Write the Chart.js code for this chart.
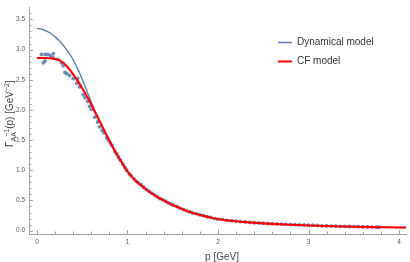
<!DOCTYPE html>
<html>
<head>
<meta charset="utf-8">
<script src="https://cdn.jsdelivr.net/npm/chart.js@4"></script>
<style>
html, body { margin: 0; padding: 0; background: #fff; }
#wrap { width: 410px; height: 262px; position: relative; }
</style>
</head>
<body>
<div id="wrap"><canvas id="chart"></canvas></div>
<script>
// momentum grid for the two model curves
const curveP = [0, 0.05, 0.1, 0.15, 0.2, 0.25, 0.3, 0.35, 0.4, 0.45, 0.5, 0.55, 0.6, 0.65, 0.7, 0.75, 0.8, 0.85, 0.9, 0.95,
    1.0, 1.05, 1.1, 1.15, 1.2, 1.25, 1.3, 1.35, 1.4, 1.45, 1.5, 1.55, 1.6, 1.65, 1.7, 1.75, 1.8, 1.85, 1.9, 2.0,
    2.1, 2.2, 2.3, 2.4, 2.5, 2.6, 2.8, 3.0, 3.2, 3.4, 3.6, 3.8, 4.0, 4.1];
const cfModel = [2.86, 2.86, 2.86, 2.855, 2.845, 2.82, 2.77, 2.69, 2.59, 2.48, 2.36, 2.23, 2.09, 1.94, 1.79, 1.64, 1.49, 1.35, 1.22, 1.10,
    0.98, 0.89, 0.81, 0.75, 0.69, 0.635, 0.585, 0.54, 0.50, 0.46, 0.425, 0.39, 0.36, 0.33, 0.305, 0.28, 0.26, 0.24, 0.222, 0.192,
    0.17, 0.155, 0.141, 0.13, 0.12, 0.111, 0.096, 0.085, 0.076, 0.068, 0.062, 0.057, 0.052, 0.05];
const dynModel = [3.35, 3.34, 3.31, 3.27, 3.21, 3.14, 3.05, 2.95, 2.83, 2.68, 2.51, 2.32, 2.13, 1.95, 1.78, 1.63, 1.49, 1.35, 1.22, 1.10,
    0.98, 0.89, 0.81, 0.75, 0.69, 0.635, 0.585, 0.54, 0.50, 0.46, 0.425, 0.39, 0.36, 0.33, 0.305, 0.28, 0.26, 0.24, 0.222, 0.192,
    0.17, 0.155, 0.141, 0.13, 0.12, 0.111, 0.096, 0.085, 0.076, 0.068, 0.062, 0.057, 0.052, 0.05];

// lattice data points
const dotsP = [0.05, 0.07, 0.09, 0.09, 0.12, 0.15, 0.18, 0.18, 0.23, 0.27, 0.29, 0.31, 0.33, 0.36, 0.40, 0.44, 0.45, 0.47, 0.51, 0.53,
    0.56, 0.58, 0.60, 0.64, 0.67, 0.69, 0.72, 0.74, 0.77, 0.79, 0.81, 0.83, 0.86, 0.88, 0.90, 0.92, 0.95, 0.97, 0.99, 1.02,
    1.04, 1.07, 1.10, 1.12, 1.15, 1.18, 1.21, 1.24, 1.27, 1.30, 1.33, 1.36, 1.39, 1.42, 1.45, 1.48, 1.51, 1.55, 1.58, 1.62,
    1.65, 1.69, 1.72, 1.76, 1.80, 1.84, 1.88, 1.92, 1.96, 2.00, 2.05, 2.10, 2.15, 2.20, 2.25, 2.30, 2.35, 2.40, 2.45, 2.50,
    2.55, 2.60, 2.65, 2.70, 2.75, 2.80, 2.85, 2.90, 2.95, 3.00, 3.05, 3.10, 3.15, 3.20, 3.25, 3.30, 3.35, 3.40, 3.45, 3.50,
    3.55, 3.60, 3.65, 3.70, 3.75, 3.78];
const dotsV = [2.92, 2.78, 2.92, 2.81, 2.92, 2.90, 2.93, 2.86, 2.84, 2.78, 2.73, 2.62, 2.60, 2.57, 2.52, 2.44, 2.52, 2.38, 2.25, 2.20,
    2.14, 2.06, 2.01, 1.88, 1.80, 1.72, 1.66, 1.62, 1.54, 1.50, 1.45, 1.41, 1.31, 1.27, 1.22, 1.17, 1.10, 1.05, 1.00, 0.94,
    0.91, 0.86, 0.82, 0.79, 0.76, 0.72, 0.68, 0.65, 0.62, 0.59, 0.56, 0.53, 0.51, 0.49, 0.46, 0.44, 0.42, 0.40, 0.37, 0.35,
    0.33, 0.31, 0.29, 0.28, 0.26, 0.25, 0.23, 0.22, 0.20, 0.19, 0.185, 0.17, 0.165, 0.155, 0.15, 0.145, 0.135, 0.13, 0.128, 0.122,
    0.118, 0.115, 0.11, 0.108, 0.104, 0.10, 0.098, 0.096, 0.094, 0.092, 0.09, 0.085, 0.08, 0.078, 0.076, 0.074, 0.07, 0.07, 0.068, 0.066,
    0.064, 0.062, 0.06, 0.058, 0.057, 0.056];

const xTicks = [0, 1, 2, 3, 4];
const yTicks = [0, 0.5, 1.0, 1.5, 2.0, 2.5, 3.0, 3.5];

const legendItems = [
    { label: 'Dynamical model', color: '#5E81B5' },
    { label: 'CF model', color: '#FF0000' }
];

// minor ticks (0.2 on x, 0.1 on y)
const minorX = [];
for (let i = 1; i <= 20; i++) if (i % 5) minorX.push(i / 5);
const minorY = [];
for (let i = 1; i <= 36; i++) if (i % 5) minorY.push(i / 10);

const toXY = (xs, ys) => xs.map((x, i) => ({ x: x, y: ys[i] }));

const decoPlugin = {
    id: 'deco',
    afterDraw(chart) {
        const ctx = chart.ctx;
        const xs = chart.scales.x, ys = chart.scales.y;
        const area = chart.chartArea;
        ctx.save();
        // inward ticks
        ctx.strokeStyle = '#a0a0a0';
        ctx.lineWidth = 1;
        ctx.beginPath();
        xTicks.forEach(v => {
            const px = Math.round(xs.getPixelForValue(v)) + 0.5;
            ctx.moveTo(px, area.bottom); ctx.lineTo(px, area.bottom - 4);
        });
        minorX.forEach(v => {
            const px = Math.round(xs.getPixelForValue(v)) + 0.5;
            ctx.moveTo(px, area.bottom); ctx.lineTo(px, area.bottom - 2.5);
        });
        yTicks.forEach(v => {
            const py = Math.round(ys.getPixelForValue(v)) + 0.5;
            ctx.moveTo(area.left, py); ctx.lineTo(area.left + 4, py);
        });
        minorY.forEach(v => {
            const py = Math.round(ys.getPixelForValue(v)) + 0.5;
            ctx.moveTo(area.left, py); ctx.lineTo(area.left + 2.5, py);
        });
        ctx.stroke();

        // x title
        ctx.fillStyle = '#444';
        ctx.font = '10px "Liberation Sans", Arial, sans-serif';
        ctx.textAlign = 'center';
        ctx.textBaseline = 'alphabetic';
        ctx.fillText('p [GeV]', 222, 260);

        // y title with sub/superscripts, rotated
        const big = '10px "Liberation Sans", Arial, sans-serif';
        const small = '7px "Liberation Sans", Arial, sans-serif';
        const parts = [
            { t: 'Γ', f: big, dy: 0 },
            { t: 'AA', f: small, dy: 2.5 },
            { t: '−1', f: small, dy: -4.5 },
            { t: '(p) [GeV', f: big, dy: 0 },
            { t: '−2', f: small, dy: -4.5 },
            { t: ']', f: big, dy: 0 }
        ];
        let total = 0;
        parts.forEach(p => { ctx.font = p.f; p.w = ctx.measureText(p.t).width; total += p.w; });
        ctx.translate(13, 116);
        ctx.rotate(-Math.PI / 2);
        ctx.textAlign = 'left';
        // the -1 superscript starts halfway over the AA subscript
        let cx = -total / 2 + parts[1].w * 0.5;
        parts.forEach((p, i) => {
            ctx.font = p.f;
            if (i === 2) cx -= parts[1].w * 0.5;
            ctx.fillText(p.t, cx, p.dy);
            cx += p.w;
        });
        ctx.restore();

        // legend
        ctx.save();
        ctx.font = '10px "Liberation Sans", Arial, sans-serif';
        ctx.textBaseline = 'middle';
        ctx.textAlign = 'left';
        legendItems.forEach((it, i) => {
            const y = 42 + i * 19;
            ctx.strokeStyle = it.color;
            ctx.lineWidth = i === 1 ? 2 : 1.5;
            ctx.beginPath();
            ctx.moveTo(278, y + 0.5); ctx.lineTo(292, y + 0.5);
            ctx.stroke();
            ctx.fillStyle = '#333';
            ctx.fillText(it.label, 297, y);
        });
        ctx.restore();
    }
};

new Chart(document.getElementById('chart'), {
    type: 'scatter',
    data: {
        datasets: [
            {
                label: 'CF model',
                data: toXY(curveP, cfModel),
                showLine: true,
                borderColor: '#FF0000',
                borderWidth: 2.1,
                pointRadius: 0,
                cubicInterpolationMode: 'monotone',
                order: 0
            },
            {
                label: 'Dynamical model',
                data: toXY(curveP, dynModel),
                showLine: true,
                borderColor: '#5E81B5',
                borderWidth: 1.4,
                pointRadius: 0,
                cubicInterpolationMode: 'monotone',
                order: 1
            },
            {
                label: 'Data',
                data: toXY(dotsP, dotsV),
                pointRadius: 1.9,
                backgroundColor: 'rgba(94,129,181,0.9)',
                borderWidth: 0,
                order: 2
            }
        ]
    },
    options: {
        responsive: true,
        maintainAspectRatio: false,
        animation: false,
        devicePixelRatio: 1,
        layout: { padding: { top: 0, right: 2, left: 0, bottom: 0 } },
        plugins: { legend: { display: false }, tooltip: { enabled: false } },
        scales: {
            x: {
                type: 'linear',
                min: -0.088,
                max: 4.077,
                afterBuildTicks: s => { s.ticks = xTicks.map(v => ({ value: v })); },
                afterFit: s => { s.height = 28; },
                grid: { display: true, drawOnChartArea: false, drawTicks: false },
                border: { display: true, color: '#a0a0a0', width: 1 },
                ticks: {
                    padding: 4,
                    color: '#555',
                    font: { size: 6.5, family: '"Liberation Sans", Arial, sans-serif' },
                    callback: v => String(v)
                }
            },
            y: {
                type: 'linear',
                min: -0.056,
                max: 3.69,
                afterBuildTicks: s => { s.ticks = yTicks.map(v => ({ value: v })); },
                afterFit: s => { s.width = 29; },
                grid: { display: true, drawOnChartArea: false, drawTicks: false },
                border: { display: true, color: '#a0a0a0', width: 1 },
                ticks: {
                    padding: 4,
                    color: '#555',
                    font: { size: 6.5, family: '"Liberation Sans", Arial, sans-serif' },
                    callback: v => Number(v).toFixed(1)
                }
            }
        }
    },
    plugins: [decoPlugin]
});
</script>
</body>
</html>
